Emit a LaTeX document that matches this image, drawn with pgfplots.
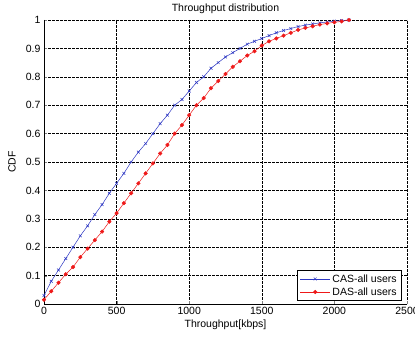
\documentclass[border=0pt]{standalone}
\usepackage{pgfplots}
\pgfplotsset{compat=1.18}
\usepackage{fontspec}
\setmainfont{Liberation Sans}
\definecolor{casblue}{RGB}{45,55,195}
\definecolor{dasred}{RGB}{238,25,25}
\begin{document}
\begin{tikzpicture}
\begin{axis}[
  scale only axis,
  width=363bp, height=284bp,
  at={(0,0)}, anchor=south west,
  xmin=0, xmax=2500, ymin=0, ymax=1,
  xtick={0,500,...,2500},
  ytick={0,0.1,...,1},
  yticklabels={0,0.1,0.2,0.3,0.4,0.5,0.6,0.7,0.8,0.9,1},
  /pgf/number format/assume math mode=true,
  scaled x ticks=false,
  xticklabel style={/pgf/number format/set thousands separator={}},
  tick label style={font=\fontsize{10.5bp}{12bp}\selectfont},
  label style={font=\fontsize{10.5bp}{12bp}\selectfont},
  every axis title shift=0pt,
  title style={font=\fontsize{10.5bp}{12bp}\selectfont, at={(axis description cs:0.5,1.039)}, anchor=center, yshift=0pt},
  title={Throughput distribution},
  xlabel={Throughput[kbps]},
  ylabel={CDF},
  xlabel style={at={(axis description cs:0.5,-0.074)}, anchor=center, yshift=0pt},
  ylabel style={at={(axis description cs:-0.088,0.5)}, anchor=center, xshift=0pt, yshift=0pt},
  axis x line*=bottom, axis y line*=left,
  grid=major,
  major grid style={black, dash pattern=on 2.5bp off 1.5bp, line width=0.5pt},
  tick align=inside,
  major tick length=3pt,
  axis line style={black, line width=0.7pt, -},
  legend style={font=\fontsize{10.5bp}{12bp}\selectfont, draw=black, line width=0.6pt, fill=white, cells={anchor=west}, inner xsep=3bp, inner ysep=2bp, at={(0.986,0.011)}, anchor=south east, row sep=0pt},
  legend cell align=left,
  legend image code/.code={\draw[mark repeat=2,mark phase=2,#1] plot coordinates {(0bp,0bp) (15bp,0bp) (30bp,0bp)};},
]
\addplot[casblue, mark=x, mark size=2pt, line width=0.5pt] coordinates {
(0,0.03)(50,0.08)(100,0.12)(150,0.16)(200,0.20)(250,0.24)(300,0.275)(350,0.315)(400,0.35)(450,0.39)(500,0.425)(550,0.46)(600,0.50)(650,0.535)(700,0.565)(750,0.60)(800,0.635)(850,0.665)(900,0.70)(950,0.72)(1000,0.75)(1050,0.78)(1100,0.80)(1150,0.83)(1200,0.85)(1250,0.87)(1300,0.885)(1350,0.90)(1400,0.915)(1450,0.925)(1500,0.935)(1550,0.945)(1600,0.955)(1650,0.963)(1700,0.97)(1750,0.977)(1800,0.982)(1850,0.986)(1900,0.99)(1950,0.993)(2000,0.996)(2050,0.998)(2100,1.0)
};
\addlegendentry{CAS-all users}
\addplot[dasred, mark=*, mark size=1.8pt, line width=0.5pt] coordinates {
(0,0.015)(50,0.045)(100,0.075)(150,0.105)(200,0.13)(250,0.165)(300,0.195)(350,0.225)(400,0.255)(450,0.29)(500,0.32)(550,0.355)(600,0.39)(650,0.425)(700,0.46)(750,0.495)(800,0.53)(850,0.56)(900,0.60)(950,0.63)(1000,0.665)(1050,0.70)(1100,0.725)(1150,0.76)(1200,0.785)(1250,0.81)(1300,0.835)(1350,0.855)(1400,0.875)(1450,0.89)(1500,0.91)(1550,0.925)(1600,0.935)(1650,0.945)(1700,0.955)(1750,0.965)(1800,0.972)(1850,0.978)(1900,0.984)(1950,0.988)(2000,0.992)(2050,0.995)(2100,1.0)
};
\addlegendentry{DAS-all users}
\end{axis}
\pgfresetboundingbox
\useasboundingbox (-44bp,-35bp) rectangle (371bp,304bp);
\end{tikzpicture}
\end{document}
